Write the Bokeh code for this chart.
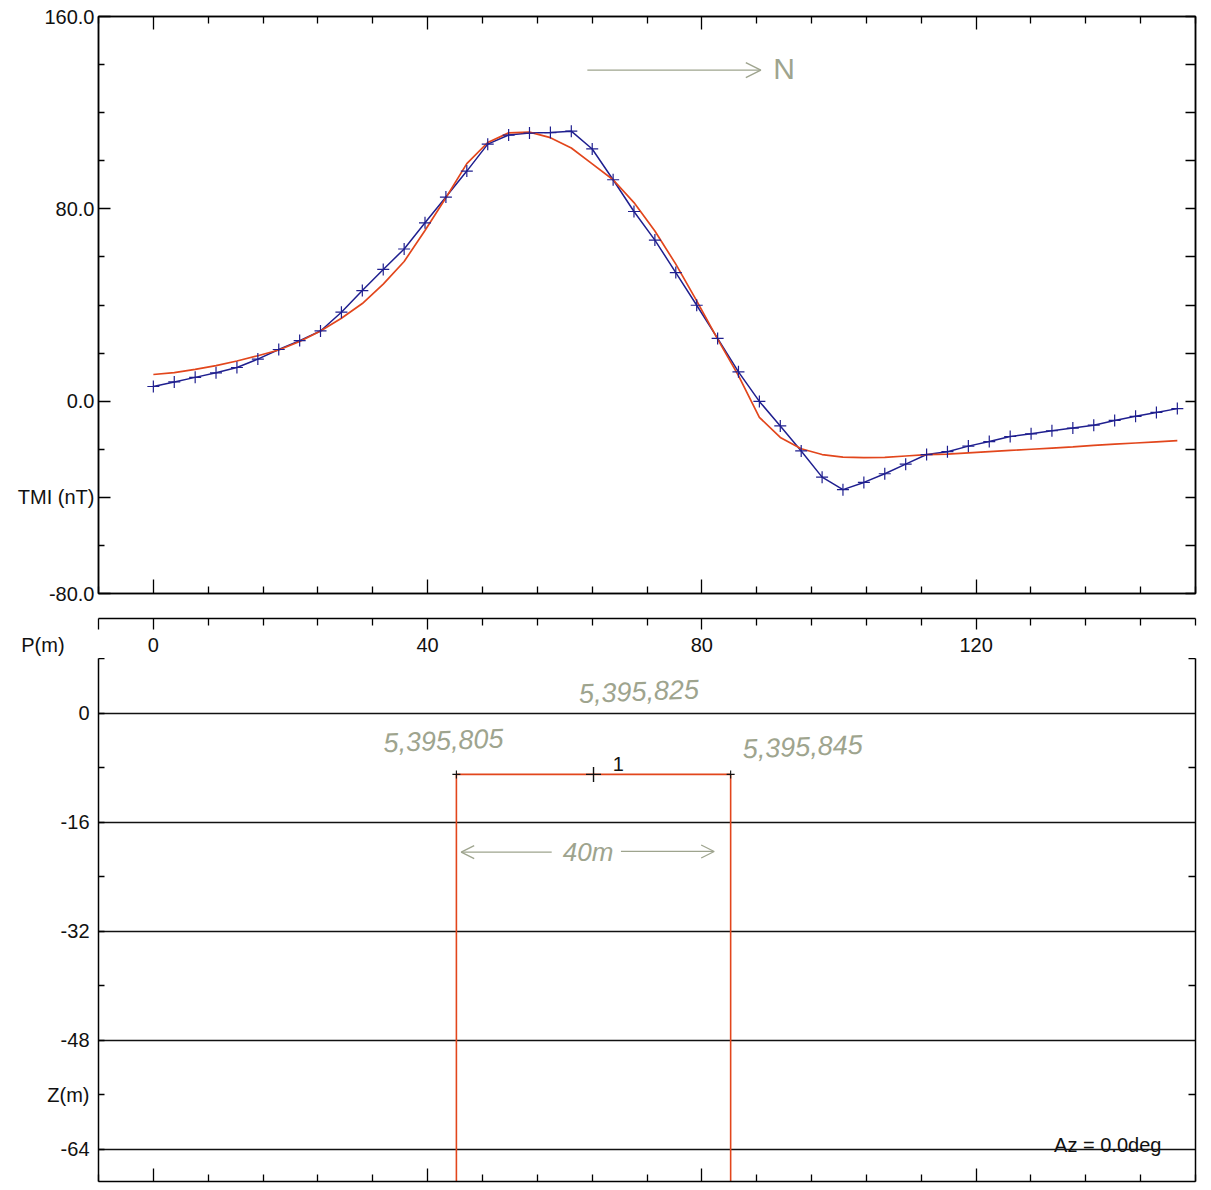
from bokeh.plotting import figure
from bokeh.models import Range1d, LinearAxis, FixedTicker, Label, Arrow, OpenHead, Grid
from bokeh.layouts import column
from bokeh.embed import file_html
from bokeh.resources import INLINE

# ---------------- data ----------------
station_m = [0.00, 3.05, 6.10, 9.14, 12.19, 15.24, 18.29, 21.34, 24.38, 27.43,
             30.48, 33.53, 36.58, 39.62, 42.67, 45.72, 48.77, 51.82, 54.86, 57.91,
             60.96, 64.01, 67.06, 70.10, 73.15, 76.20, 79.25, 82.30, 85.34, 88.39,
             91.44, 94.49, 97.54, 100.58, 103.63, 106.68, 109.73, 112.78, 115.82, 118.87,
             121.92, 124.97, 128.02, 131.06, 134.11, 137.16, 140.21, 143.26, 146.30, 149.35]

tmi_observed = [6.1, 8.0, 9.9, 11.8, 14.0, 17.5, 21.5, 25.2, 29.2, 37.0,
                46.0, 54.8, 63.3, 74.2, 84.9, 95.7, 106.9, 110.7, 111.5, 111.7,
                112.3, 104.9, 92.1, 78.9, 67.0, 53.5, 39.9, 26.1, 12.2, -0.1,
                -10.3, -20.7, -31.6, -36.8, -33.8, -30.2, -26.2, -22.2, -21.0, -18.7,
                -16.8, -14.7, -13.6, -12.3, -11.2, -10.0, -8.0, -6.3, -4.7, -3.1]

tmi_model = [11.1, 11.9, 13.2, 14.8, 16.7, 18.9, 21.3, 24.8, 29.2, 34.5,
             40.6, 48.7, 58.1, 71.0, 84.6, 98.8, 107.6, 111.6, 111.9, 109.6,
             105.3, 98.7, 92.1, 82.6, 70.8, 57.0, 41.7, 25.8, 10.6, -6.7,
             -15.1, -19.8, -22.2, -23.3, -23.5, -23.4, -22.8, -22.2, -22.0, -21.5,
             -21.0, -20.5, -20.0, -19.5, -19.0, -18.4, -17.9, -17.4, -16.9, -16.4]

tmi_major = [-80, -40, 0, 80, 160]
tmi_labels = {-80: "-80.0", -40: "TMI (nT)", 0: "0.0", 80: "80.0", 160: "160.0"}
tmi_minor = [-60, -20, 20, 40, 60, 100, 120, 140]
tmi_right = [-80, -60, -40, -20, 0, 20, 40, 60, 80, 100, 120, 140, 160]

p_major = [0, 40, 80, 120]
p_minor = [-8, 8, 16, 24, 32, 48, 56, 64, 72, 88, 96, 104, 112, 128, 136, 144, 152]
p_axis_major = [-8, 0, 40, 80, 120]
p_axis_minor = [8, 16, 24, 32, 48, 56, 64, 72, 88, 96, 104, 112, 128, 136, 144, 152]
p_labels = {-8: "P(m)" + "\u00a0" * 20, 0: "0", 40: "40", 80: "80", 120: "120"}
p_spacer_labels = {t: "\u00a0" for t in p_major}

z_major = [0, -16, -32, -48, -56, -64]
z_labels = {0: "0", -16: "-16", -32: "-32", -48: "-48", -56: "Z(m)", -64: "-64"}
z_minor = [8, -8, -24, -40]
z_grid = [0, -16, -32, -48, -64]
z_right_minor = [8, -8, -24, -40, -56]

body_x = [44.2, 44.2, 84.2, 84.2]
body_z = [-120.0, -9.0, -9.0, -120.0]
body_corner_x = [44.2, 84.2]
body_corner_z = [-9.0, -9.0]
body_center_x = [64.2]
body_center_z = [-9.0]
body_name = "1"
northing_text = ["5,395,805", "5,395,825", "5,395,845"]
northing_x = [42.3, 70.8, 94.7]
northing_z = [-4.0, 3.2, -4.9]
azimuth_text = "Az = 0.0deg"

FONT = "Liberation Sans"
BLUE = "#1f1f8f"
RED = "#e2461c"
HAND = "#9ea48e"
BLACK = "#111111"


def blank_axis(ax):
    ax.major_label_text_font_size = "0px"
    ax.major_label_text_alpha = 0
    ax.major_label_standoff = 0
    return ax


# ---------------- top panel ----------------
top = figure(width=1205, height=658, x_range=Range1d(-8, 152), y_range=Range1d(-80, 160),
             output_backend="svg", toolbar_location=None,
             x_axis_location=None, y_axis_location=None,
             min_border_left=98, min_border_right=10, min_border_top=16, min_border_bottom=60)
top.grid.visible = False
top.outline_line_color = BLACK
top.outline_line_width = 1.5
top.outline_line_alpha = 1.0

ax_left = LinearAxis(ticker=FixedTicker(ticks=tmi_major, minor_ticks=tmi_minor),
                     major_label_overrides=tmi_labels,
                     major_tick_in=12, major_tick_out=0, minor_tick_in=6, minor_tick_out=0,
                     major_label_standoff=4, major_label_text_font=FONT,
                     major_label_text_font_size="20px", major_label_text_color=BLACK,
                     axis_line_width=1.5, major_tick_line_width=1.3, minor_tick_line_width=1.3)
top.add_layout(ax_left, "left")

ax_right = blank_axis(LinearAxis(ticker=FixedTicker(ticks=tmi_right),
                                 major_tick_in=10, major_tick_out=0, minor_tick_in=0, minor_tick_out=0,
                                 axis_line_width=1.5, major_tick_line_width=1.3))
top.add_layout(ax_right, "right")

ax_above = blank_axis(LinearAxis(ticker=FixedTicker(ticks=p_major, minor_ticks=p_minor),
                                 major_tick_in=13, major_tick_out=0, minor_tick_in=7, minor_tick_out=0,
                                 axis_line_width=1.5, major_tick_line_width=1.3, minor_tick_line_width=1.3))
top.add_layout(ax_above, "above")

# frame-bottom axis of the profile panel: inward ticks; blank labels reserve the gap
ax_below_a = LinearAxis(ticker=FixedTicker(ticks=p_major, minor_ticks=p_minor),
                        major_label_overrides=p_spacer_labels,
                        major_tick_in=14, major_tick_out=0, minor_tick_in=7, minor_tick_out=0,
                        major_label_text_font=FONT, major_label_text_font_size="2px",
                        major_label_standoff=20,
                        axis_line_width=1.5, major_tick_line_width=1.3, minor_tick_line_width=1.3)
top.add_layout(ax_below_a, "below")

ax_below_b = LinearAxis(ticker=FixedTicker(ticks=p_axis_major, minor_ticks=p_axis_minor),
                        major_label_overrides=p_labels,
                        major_tick_in=0, major_tick_out=11, minor_tick_in=0, minor_tick_out=7,
                        major_label_standoff=4, major_label_text_font=FONT,
                        major_label_text_font_size="20px", major_label_text_color=BLACK,
                        axis_line_width=1.5, major_tick_line_width=1.3, minor_tick_line_width=1.3)
top.add_layout(ax_below_b, "below")

top.line(station_m, tmi_observed, line_color=BLUE, line_width=1.5)
top.line(station_m, tmi_model, line_color=RED, line_width=1.7)
top.scatter(station_m, tmi_observed, marker="cross", size=12, line_color=BLUE, line_width=1.2)

top.add_layout(Arrow(end=OpenHead(size=15, line_color=HAND, line_width=1.4),
                     x_start=63.3, y_start=137.7, x_end=88.6, y_end=137.7,
                     line_color=HAND, line_width=1.2))
top.add_layout(Label(x=92.0, y=138.5, text="N", text_align="center", text_baseline="middle",
                     text_font=FONT, text_font_size="30px", text_color=HAND))

# ---------------- bottom panel ----------------
bot = figure(width=1205, height=527, x_range=Range1d(-8, 152), y_range=Range1d(-68.7, 8),
             output_backend="svg", toolbar_location=None,
             x_axis_location=None, y_axis_location=None,
             min_border_left=98, min_border_right=10, min_border_top=0, min_border_bottom=4)
bot.grid.visible = False
bot.outline_line_color = None

bot.add_layout(Grid(dimension=1, ticker=FixedTicker(ticks=z_grid),
                    grid_line_color=BLACK, grid_line_width=1.4))

bl = LinearAxis(ticker=FixedTicker(ticks=z_major, minor_ticks=z_minor),
                major_label_overrides=z_labels,
                major_tick_in=6, major_tick_out=0, minor_tick_in=6, minor_tick_out=0,
                major_label_standoff=9, major_label_text_font=FONT,
                major_label_text_font_size="20px", major_label_text_color=BLACK,
                axis_line_width=1.5, major_tick_line_width=1.3, minor_tick_line_width=1.3)
bot.add_layout(bl, "left")

br = blank_axis(LinearAxis(ticker=FixedTicker(ticks=z_grid, minor_ticks=z_right_minor),
                           major_tick_in=0, major_tick_out=0, minor_tick_in=7, minor_tick_out=0,
                           axis_line_width=1.5, minor_tick_line_width=1.3))
bot.add_layout(br, "right")

bb = blank_axis(LinearAxis(ticker=FixedTicker(ticks=p_major, minor_ticks=p_minor),
                           major_tick_in=13, major_tick_out=0, minor_tick_in=7, minor_tick_out=0,
                           axis_line_width=1.5, major_tick_line_width=1.3, minor_tick_line_width=1.3))
bot.add_layout(bb, "below")

bot.line(body_x, body_z, line_color=RED, line_width=1.6)
bot.scatter(body_corner_x, body_corner_z, marker="cross", size=8, line_color=BLACK, line_width=1.1)
bot.scatter(body_center_x, body_center_z, marker="cross", size=15, line_color=BLACK, line_width=1.4)
bot.add_layout(Label(x=67.8, y=-7.4, text=body_name, text_align="center", text_baseline="middle",
                     text_font=FONT, text_font_size="20px", text_color=BLACK))

for t, xx, zz in zip(northing_text, northing_x, northing_z):
    bot.add_layout(Label(x=xx, y=zz, text=t, text_align="center", text_baseline="middle",
                         text_font=FONT, text_font_style="italic", text_font_size="27px",
                         text_color=HAND, angle=0.04))

bot.add_layout(Arrow(end=OpenHead(size=13, line_color=HAND, line_width=1.3),
                     x_start=58.1, y_start=-20.4, x_end=44.9, y_end=-20.4,
                     line_color=HAND, line_width=1.2))
bot.add_layout(Arrow(end=OpenHead(size=13, line_color=HAND, line_width=1.3),
                     x_start=68.2, y_start=-20.3, x_end=81.8, y_end=-20.3,
                     line_color=HAND, line_width=1.2))
bot.add_layout(Label(x=63.4, y=-20.4, text="40m", text_align="center", text_baseline="middle",
                     text_font=FONT, text_font_style="italic", text_font_size="26px",
                     text_color=HAND))

bot.add_layout(Label(x=139.2, y=-63.4, text=azimuth_text, text_align="center", text_baseline="middle",
                     text_font=FONT, text_font_size="20px", text_color=BLACK))

layout = column(top, bot)
open("out.html", "w").write(file_html(layout, INLINE))
